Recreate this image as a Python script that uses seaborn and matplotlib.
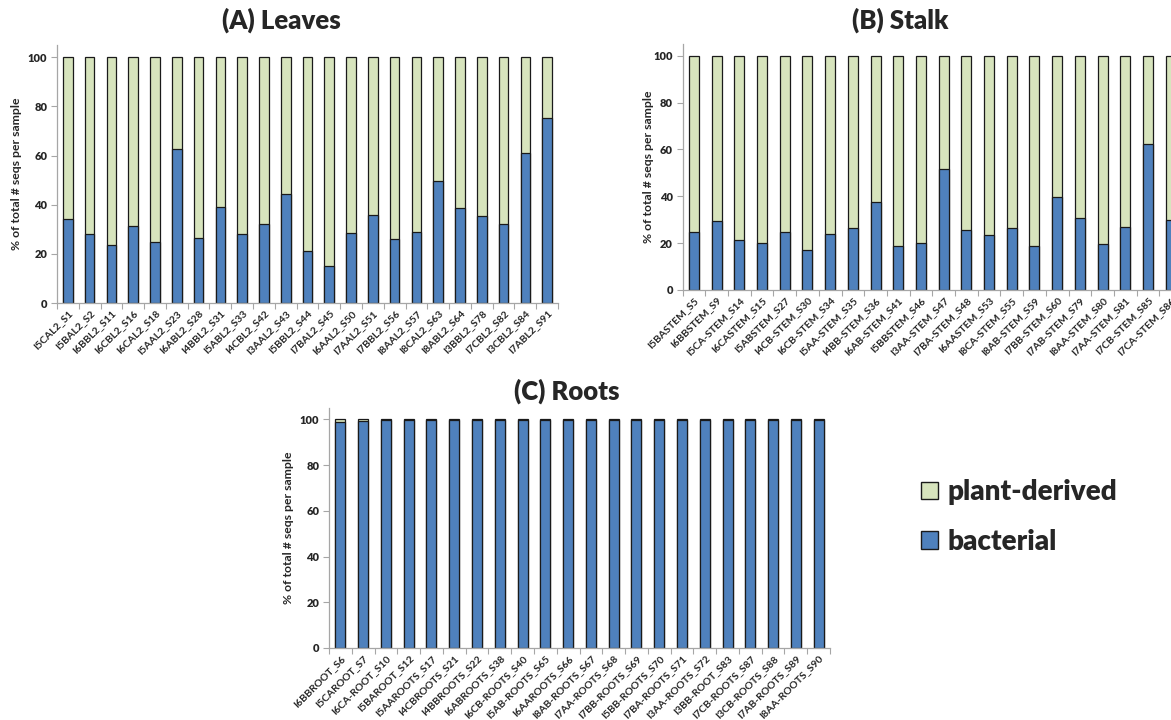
import matplotlib
matplotlib.use("Agg")
import matplotlib.pyplot as plt
from matplotlib.patches import Patch
from matplotlib.ticker import FixedLocator
import numpy as np
import pandas as pd
import seaborn as sns

# ---- data: % of bacterial reads per sample (remainder is plant-derived) ----
leaves_samples = ["I5CAL2_S1", "I5BAL2_S2", "I6BBL2_S11", "I6CBL2_S16", "I6CAL2_S18",
                  "I5AAL2_S23", "I6ABL2_S28", "I4BBL2_S31", "I5ABL2_S33", "I4CBL2_S42",
                  "I3AAL2_S43", "I5BBL2_S44", "I7BAL2_S45", "I6AAL2_S50", "I7AAL2_S51",
                  "I7BBL2_S56", "I8AAL2_S57", "I8CAL2_S63", "I8ABL2_S64", "I3BBL2_S78",
                  "I7CBL2_S82", "I3CBL2_S84", "I7ABL2_S91"]
leaves_bacterial = [34.0, 28.0, 23.5, 31.5, 25.0, 62.5, 26.5, 39.0, 28.0, 32.0,
                    44.5, 21.0, 15.0, 28.3, 36.0, 26.0, 28.7, 49.6, 38.6, 35.5,
                    32.2, 61.0, 75.2]

stalk_samples = ["I5BASTEM_S5", "I6BBSTEM_S9", "I5CA-STEM_S14", "I6CASTEM_S15", "I5ABSTEM_S27",
                 "I4CB-STEM_S30", "I6CB-STEM_S34", "I5AA-STEM_S35", "I4BB-STEM_S36", "I6AB-STEM_S41",
                 "I5BBSTEM_S46", "I3AA-STEM_S47", "I7BA-STEM_S48", "I6AASTEM_S53", "I8CA-STEM_S55",
                 "I8AB-STEM_S59", "I7BB-STEM_S60", "I7AB-STEM_S79", "I8AA-STEM_S80", "I7AA-STEM_S81",
                 "I7CB-STEM_S85", "I7CA-STEM_S86"]
stalk_bacterial = [24.9, 29.5, 21.4, 20.0, 24.9, 17.2, 24.0, 26.6, 37.6, 18.9,
                   19.9, 51.7, 25.6, 23.4, 26.4, 18.8, 39.8, 30.8, 19.7, 27.0,
                   62.4, 30.0]

roots_samples = ["I6BBROOT_S6", "I5CAROOT_S7", "I6CA-ROOT_S10", "I5BAROOT_S12", "I5AAROOTS_S17",
                 "I4CBROOTS_S21", "I4BBROOTS_S22", "I6ABROOTS_S38", "I6CB-ROOTS_S40", "I5AB-ROOTS_S65",
                 "I6AAROOTS_S66", "I8AB-ROOTS_S67", "I7AA-ROOTS_S68", "I7BB-ROOTS_S69", "I5BB-ROOTS_S70",
                 "I7BA-ROOTS_S71", "I3AA-ROOTS_S72", "I3BB-ROOT_S83", "I7CB-ROOTS_S87", "I3CB-ROOTS_S88",
                 "I7AB-ROOTS_S89", "I8AA-ROOTS_S90"]
roots_bacterial = [99.0, 99.4, 99.8, 99.8, 99.7, 99.8, 99.8, 99.8, 99.8, 99.8,
                   99.8, 99.8, 99.8, 99.8, 99.8, 99.8, 99.7, 99.8, 99.8, 99.7,
                   99.8, 99.8]

series_names = ["plant-derived", "bacterial"]

PLANT = "#D7E4BD"
BACT = "#4F81BD"
EDGE = "#1a1a1a"
AXIS_GREY = "#A6A6A6"

sns.set_theme(style="white")
plt.rcParams["font.family"] = ["Lato", "DejaVu Sans"]
plt.rcParams["font.weight"] = "bold"

fig = plt.figure(figsize=(11.71, 7.2), dpi=100)


def panel(rect, samples, bacterial, title, title_xy, ylabel_x):
    ax = fig.add_axes(rect)
    bact = np.asarray(bacterial, dtype=float)
    plant = 100.0 - bact
    df = pd.DataFrame({"sample": samples, "total": bact + plant, "bacterial": bact})
    # stacked column: full column in plant colour, bacterial share on top of it
    sns.barplot(data=df, x="sample", y="total", color=PLANT, saturation=1,
                width=0.44, edgecolor=EDGE, linewidth=0.9, ax=ax)
    sns.barplot(data=df, x="sample", y="bacterial", color=BACT, saturation=1,
                width=0.44, edgecolor=EDGE, linewidth=0.9, ax=ax)
    n = len(samples)
    ax.set_xlim(-0.5, n - 0.5)
    ax.set_ylim(0, 105)
    ax.set_yticks([0, 20, 40, 60, 80, 100])
    ax.set_yticklabels(["0", "20", "40", "60", "80", "100"], fontsize=8,
                       fontweight="heavy")
    ax.set_xticks(range(n))
    ax.set_xticklabels(samples, rotation=45, ha="right", rotation_mode="anchor",
                       fontsize=7.5, fontweight="bold")
    ax.xaxis.set_minor_locator(FixedLocator(np.arange(-0.5, n, 1.0)))
    ax.tick_params(axis="x", which="major", length=0, pad=4)
    ax.tick_params(axis="x", which="minor", length=4, color=AXIS_GREY,
                   width=0.8, direction="out", bottom=True)
    ax.tick_params(axis="y", length=4, color=AXIS_GREY, width=0.8,
                   direction="out", left=True, pad=3)
    for side in ("top", "right"):
        ax.spines[side].set_visible(False)
    for side in ("left", "bottom"):
        ax.spines[side].set_color(AXIS_GREY)
        ax.spines[side].set_linewidth(0.9)
    ax.set_xlabel("")
    ax.set_ylabel("% of total # seqs per sample", fontsize=8.8, fontweight="bold")
    ax.yaxis.set_label_coords(ylabel_x, 0.5)
    ax.grid(False)
    fig.text(title_xy[0] / 1171, 1 - title_xy[1] / 720, title, ha="center",
             va="center", fontsize=18.5, fontweight="heavy")
    return ax


panel([57 / 1171, 1 - 303 / 720, 501 / 1171, 258 / 720],
      leaves_samples, leaves_bacterial, "(A) Leaves", (281, 20), -0.07)
panel([682.6 / 1171, 1 - 290 / 720, 499.4 / 1171, 246 / 720],
      stalk_samples, stalk_bacterial, "(B) Stalk", (900, 20), -0.057)
panel([329 / 1171, 1 - 648 / 720, 501 / 1171, 240 / 720],
      roots_samples, roots_bacterial, "(C) Roots", (567, 391), -0.07)

handles = [Patch(facecolor=PLANT, edgecolor=EDGE, linewidth=1.0, label=series_names[0]),
           Patch(facecolor=BACT, edgecolor=EDGE, linewidth=1.0, label=series_names[1])]
fig.legend(handles=handles, loc="center left",
           bbox_to_anchor=(896 / 1171, 1 - 517 / 720), frameon=False,
           prop={"size": 20, "weight": "heavy"}, handlelength=0.6,
           handleheight=0.6, handletextpad=0.35, labelspacing=0.85)

fig.savefig("out.png", dpi=100)
